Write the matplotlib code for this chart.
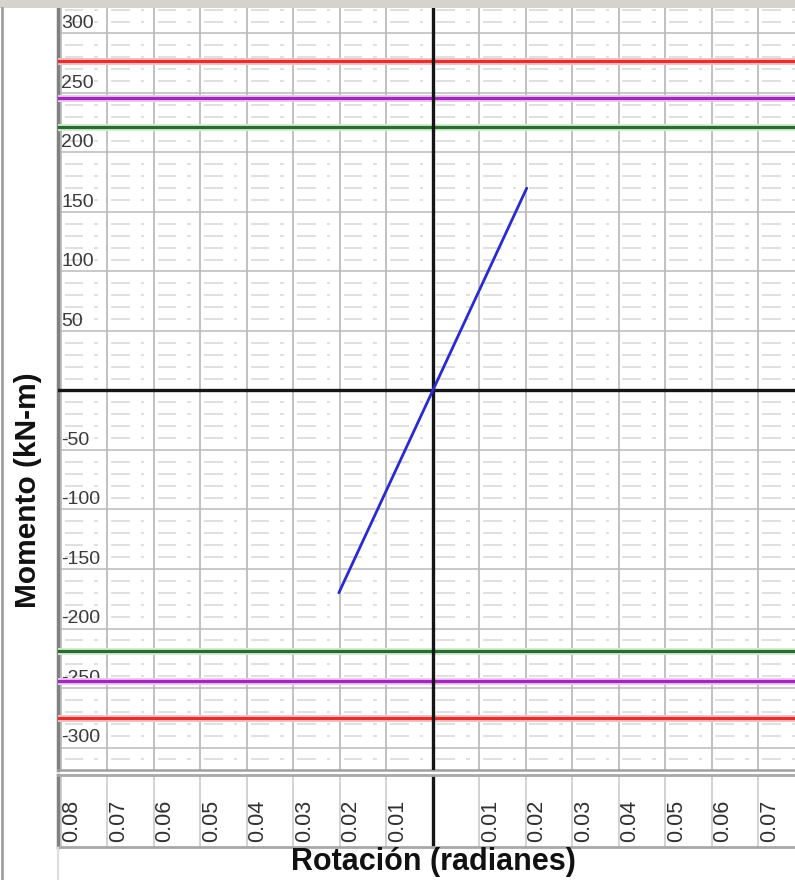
import matplotlib
matplotlib.use('Agg')
import matplotlib.pyplot as plt
import numpy as np
from matplotlib.collections import LineCollection
from matplotlib.lines import Line2D
from matplotlib.patches import Rectangle

# ---- data ----
rotation = [-0.0202, 0.0202]
moment = [-170, 170]

limit_pos = [277, 246, 221]
limit_neg = [-275, -244, -219]
limit_colors = ['#dd3333', '#9c2bb8', '#2d6a33']
halo_colors = ['#f8c0c0', '#f3c4f6', '#cdf0cd']

y_ticks = [300, 250, 200, 150, 100, 50, -50, -100, -150, -200, -250, -300]
y_labels = ['300', '250', '200', '150', '100', '50', '-50', '-100', '-150', '-200', '-250', '-300']

x_ticks = [-0.08, -0.07, -0.06, -0.05, -0.04, -0.03, -0.02, -0.01,
           0.01, 0.02, 0.03, 0.04, 0.05, 0.06, 0.07]
x_labels = ['0.08', '0.07', '0.06', '0.05', '0.04', '0.03', '0.02', '0.01',
            '0.01', '0.02', '0.03', '0.04', '0.05', '0.06', '0.07']

plt.rcParams['font.family'] = ['Liberation Sans', 'DejaVu Sans']

W, H = 795, 880
fig = plt.figure(figsize=(W / 100, H / 100), dpi=100)
fig.patch.set_facecolor('white')


def fx(px):
    return px / W


def fy(py):
    return 1 - py / H


XLIM = (-0.0806, 0.0779)
YLIM = (-318.9, 321.4)

# ---- main plot ----
ax = fig.add_axes([fx(58), fy(770), fx(795) - fx(58), fy(8) - fy(770)])
ax.set_xlim(*XLIM)
ax.set_ylim(*YLIM)
ax.set_xticks([])
ax.set_yticks([])

grid_x = np.round(np.arange(-0.09, 0.09, 0.01), 3)
grid_y = np.arange(-300, 301, 50)
minor_y = [v for v in np.arange(-310, 321, 10) if v % 50 != 0]

# minor dashed grid (segment pattern per 0.01 cell)
segs = []
for y in minor_y:
    for x0 in grid_x:
        segs.append([(x0 + 0.0008, y), (x0 + 0.0048, y)])
        segs.append([(x0 + 0.0072, y), (x0 + 0.0080, y)])
ax.add_collection(LineCollection(segs, colors='#dadada', linewidths=1.2, zorder=1))

for v in grid_x:
    if abs(v) > 1e-9:
        ax.axvline(v, color='#b0b0b0', lw=1.1, zorder=1.5)
for v in grid_y:
    if v != 0:
        ax.axhline(v, color='#bababa', lw=1.1, zorder=1.5)

# y labels inside the plot
for t, l in zip(y_ticks, y_labels):
    ax.annotate(l, xy=(0, t), xycoords=('axes fraction', 'data'),
                xytext=(2.5, 7), textcoords='offset points',
                ha='left', va='center', fontsize=14, color='#3a3a3a', zorder=2.5)

# limit lines
for val, c, h in zip(limit_pos, limit_colors, halo_colors):
    ax.axhline(val, color=h, lw=5.0, zorder=3)
    ax.axhline(val, color=c, lw=2.3, zorder=4)
for val, c, h in zip(limit_neg, limit_colors, halo_colors):
    ax.axhline(val, color=h, lw=5.0, zorder=3)
    ax.axhline(val, color=c, lw=2.3, zorder=4)

# axes through origin
ax.axhline(0, color='#151515', lw=2.4, zorder=5)
ax.axvline(0, color='#151515', lw=2.4, zorder=5)

# curve
ax.plot(rotation, moment, color='#2a2ad2', lw=2.0, zorder=6, solid_capstyle='round')

for s in ['top', 'right']:
    ax.spines[s].set_visible(False)
ax.spines['left'].set_color('#808080')
ax.spines['left'].set_linewidth(2.5)
ax.spines['bottom'].set_color('#a0a0a0')
ax.spines['bottom'].set_linewidth(1.8)

# ---- tick label panel ----
tax = fig.add_axes([fx(58), fy(847), fx(795) - fx(58), fy(775) - fy(847)])
tax.set_xlim(*XLIM)
tax.set_ylim(0, 1)
tax.set_xticks([])
tax.set_yticks([])
for v in grid_x:
    if abs(v) > 1e-9:
        tax.axvline(v, color='#c6c6c6', lw=1.1, zorder=1)
tax.axvline(0, color='#151515', lw=2.4, zorder=2)
for t, l in zip(x_ticks, x_labels):
    tax.annotate(l, xy=(t, 0.07), xycoords=('data', 'axes fraction'),
                 xytext=(8, 0), textcoords='offset points',
                 ha='center', va='bottom', rotation=90,
                 fontsize=15.5, color='#303030')
tax.spines['right'].set_visible(False)
tax.spines['top'].set_color('#a8a8a8')
tax.spines['top'].set_linewidth(2)
tax.spines['left'].set_color('#808080')
tax.spines['left'].set_linewidth(2.5)
tax.spines['bottom'].set_color('#a8a8a8')
tax.spines['bottom'].set_linewidth(2)

# ---- axis titles ----
fig.text(fx(28), fy(490), 'Momento (kN-m)', rotation=90, ha='center', va='center',
         fontsize=21.5, fontweight='bold', color='#111111')
fig.text(fx(433), fy(862), 'Rotación (radianes)', ha='center', va='center',
         fontsize=22, fontweight='bold', color='#111111')

# ---- window frame bits ----
fig.add_artist(Rectangle((0, fy(8)), 1, 1 - fy(8), transform=fig.transFigure,
                         facecolor='#d6d2cc', edgecolor='none', zorder=10))
fig.add_artist(Line2D([fx(1.5), fx(1.5)], [0, fy(8)], transform=fig.transFigure,
                      color='#a0a0a0', lw=2, zorder=10))
fig.add_artist(Line2D([fx(58), fx(58)], [0, fy(848)], transform=fig.transFigure,
                      color='#dddddd', lw=1.5, zorder=10))

fig.savefig('out.png', dpi=100)
